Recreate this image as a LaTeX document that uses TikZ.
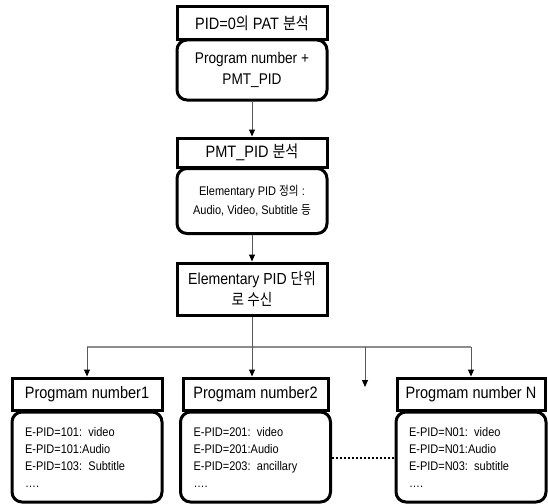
\documentclass[tikz,border=0pt]{standalone}
\usepackage{fontspec}
\setmainfont{Liberation Sans}[FakeStretch=0.88]
\newfontfamily\kr{Noto Sans CJK KR}[FakeStretch=0.85]
\usetikzlibrary{arrows.meta}
\begin{document}
\begin{tikzpicture}[x=1pt,y=-1pt,
  hdr/.style={draw, line width=3pt, inner sep=0pt, align=center, font=\fontsize{16.5}{19}\selectfont},
  bdy/.style={draw, line width=3pt, rounded corners=10pt, inner sep=0pt, align=center},
  lst/.style={draw, line width=3pt, rounded corners=10pt, inner xsep=13pt, inner ysep=0pt, align=left,
              text width=124pt, font=\fontsize{12.5}{17}\selectfont},
  arr/.style={-{Triangle[length=7pt,width=6pt,color=black]}, line width=1pt, draw=black!65},
  hline/.style={line width=1.8pt, draw=black!45}]
\useasboundingbox (0,0) rectangle (548,503);
% top group
\node[bdy, minimum width=150pt, minimum height=60pt, font=\fontsize{15.5}{21}\selectfont] (r1) at (252,70) {Program number +\\PMT\_PID};
\node[hdr, minimum width=150pt, minimum height=33pt] (t1) at (252,23.5) {PID=0{\kr 의} PAT {\kr 분석}};
% second group
\node[bdy, minimum width=150pt, minimum height=65pt, font=\fontsize{12.5}{19}\selectfont] (r2) at (252,201) {Elementary PID {\kr 정의} :\\Audio, Video, Subtitle {\kr 등}};
\node[hdr, minimum width=150pt, minimum height=29pt] (t2) at (252,152.5) {PMT\_PID {\kr 분석}};
% third
\node[hdr, minimum width=150pt, minimum height=52pt, font=\fontsize{16}{21}\selectfont] (t3) at (252,289) {Elementary PID {\kr 단위}\\{\kr 로 수신}};
% bottom boxes
\node[lst, minimum width=150pt, minimum height=90pt] (l1) at (87,457) {E-PID=101: video\\E-PID=101:Audio\\E-PID=103: Subtitle\\….};
\node[hdr, minimum width=150pt, minimum height=32pt] (h1) at (87,394) {Progmam number1};
\node[lst, minimum width=145pt, minimum height=90pt] (l2) at (255.5,457) {E-PID=201: video\\E-PID=201:Audio\\E-PID=203: ancillary\\….};
\node[hdr, minimum width=145pt, minimum height=32pt] (h2) at (255.5,394) {Progmam number2};
\node[lst, minimum width=148pt, minimum height=90pt] (lN) at (471,457) {E-PID=N01: video\\E-PID=N01:Audio\\E-PID=N03: subtitle\\….};
\node[hdr, minimum width=148pt, minimum height=32pt] (hN) at (471,394) {Progmam number N};
% connectors
\draw[arr] (r1.south) -- (t2.north);
\draw[arr] (r2.south) -- (t3.north);
\coordinate (c1) at (87,347);
\coordinate (cN) at (471,347);
\coordinate (cx) at (365,347);
\coordinate (cxe) at (365,387);
\draw[hline] (c1) -- (cN);
\draw[arr] (t3.south) -- (t3.south |- h2.north);
\draw[arr] (c1) -- (h1.north);
\draw[arr] (cN) -- (hN.north);
\draw[arr] (cx) -- (cxe);
\draw[line width=2pt, dash pattern=on 2pt off 2pt] (l2.east |- 0,458) -- (lN.west |- 0,458);
\end{tikzpicture}
\end{document}
